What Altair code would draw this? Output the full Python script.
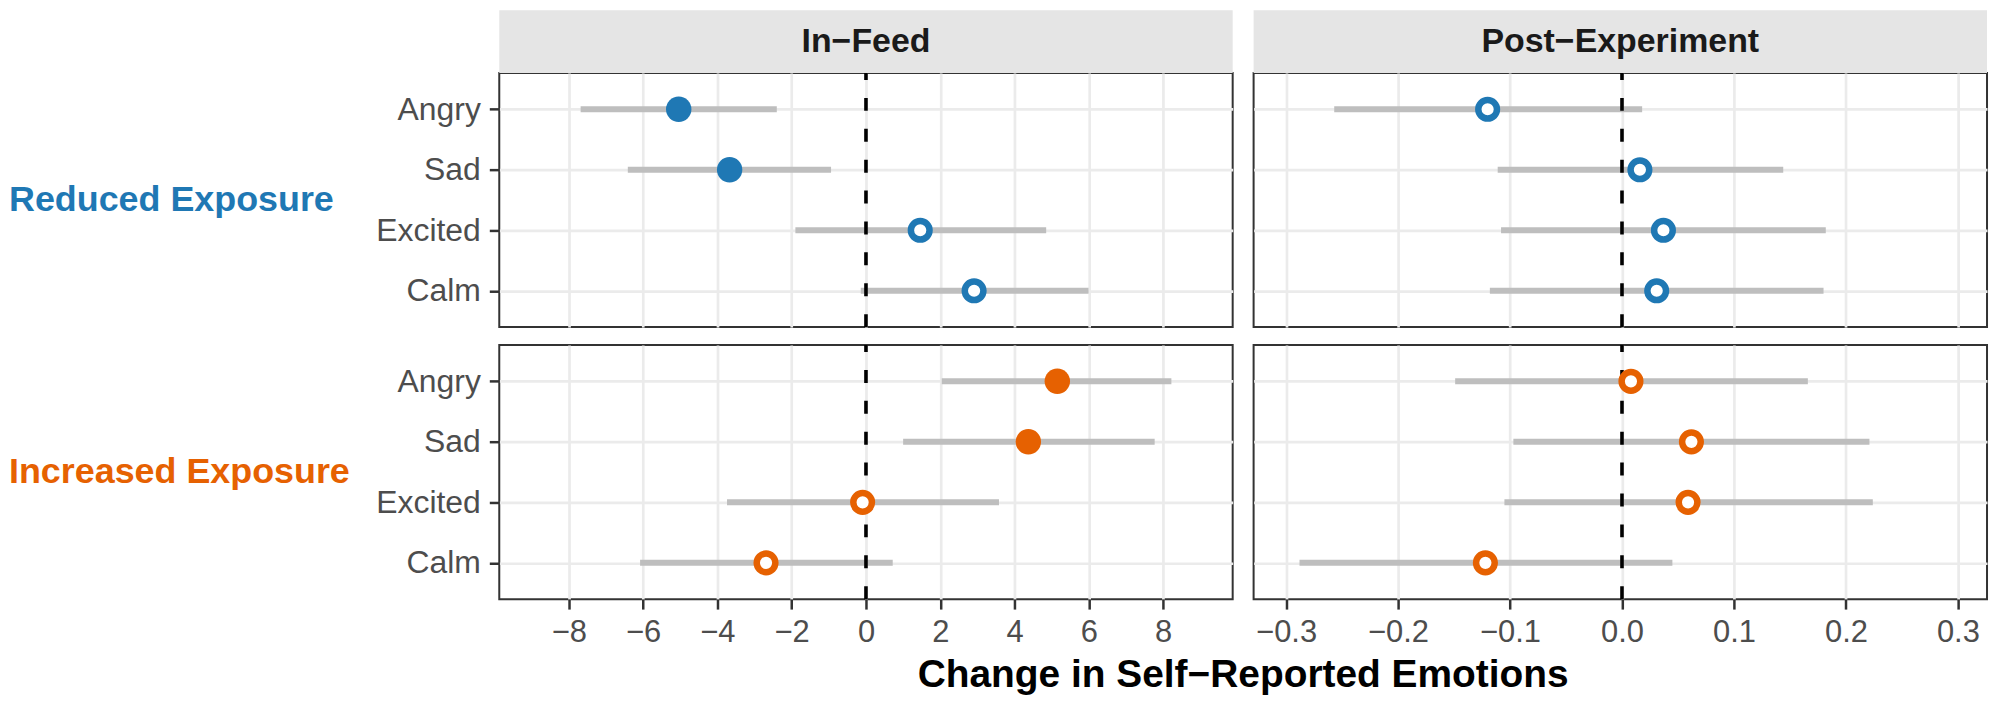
import altair as alt
import pandas as pd

# ---------------- data ----------------
emotions = ["Angry", "Sad", "Excited", "Calm"]
groups = ["Reduced Exposure", "Increased Exposure"]
timings = ["In−Feed", "Post−Experiment"]
group_colors = ["#1F78B4", "#E66101"]

reduced_infeed_est = [-5.04, -3.67, 1.46, 2.91]
reduced_infeed_lo = [-7.68, -6.41, -1.90, -0.14]
reduced_infeed_hi = [-2.40, -0.94, 4.85, 5.99]

increased_infeed_est = [5.15, 4.37, -0.09, -2.69]
increased_infeed_lo = [2.04, 1.00, -3.74, -6.08]
increased_infeed_hi = [8.22, 7.77, 3.58, 0.72]

reduced_post_est = [-0.120, 0.016, 0.037, 0.031]
reduced_post_lo = [-0.257, -0.111, -0.108, -0.118]
reduced_post_hi = [0.018, 0.144, 0.182, 0.180]

increased_post_est = [0.008, 0.062, 0.059, -0.122]
increased_post_lo = [-0.149, -0.097, -0.105, -0.288]
increased_post_hi = [0.166, 0.221, 0.224, 0.045]

x_domains = [[-9.87, 9.87], [-0.329, 0.326]]
x_ticks = [[-8, -6, -4, -2, 0, 2, 4, 6, 8], [-0.3, -0.2, -0.1, 0.0, 0.1, 0.2, 0.3]]
x_formats = ["d", ".1f"]
x_title = "Change in Self−Reported Emotions"

FONT = "Liberation Sans"
W, H = 736, 255


def make_panel(est, lo, hi, gi, ti):
    df = pd.DataFrame({"emotion": emotions, "est": est, "lo": lo, "hi": hi})
    df["filled"] = (df["lo"] > 0) | (df["hi"] < 0)
    df["group"] = groups[gi]
    top = gi == 0
    bottom = gi == 1
    left = ti == 0

    xscale = alt.Scale(domain=x_domains[ti], nice=False, zero=False)
    xaxis = alt.Axis(values=x_ticks[ti], format=x_formats[ti], labels=bottom,
                     ticks=bottom, grid=True, title=None)
    yscale = alt.Scale(type="point", padding=0.6, domain=emotions)
    yaxis = alt.Axis(labels=left, ticks=left, grid=True, title=None)
    cscale = alt.Scale(domain=groups, range=group_colors)

    base = alt.Chart(df)
    ci = base.mark_rule(color="#BEBEBE", strokeWidth=6).encode(
        x=alt.X("lo:Q", scale=xscale, axis=xaxis, title=None),
        x2="hi:Q",
        y=alt.Y("emotion:N", scale=yscale, axis=yaxis, sort=emotions, title=None),
    )
    zero = alt.Chart(pd.DataFrame({"z": [0.0]})).mark_rule(
        color="black", strokeWidth=3.6, strokeDash=[13, 18]
    ).encode(
        x=alt.X("z:Q", title=None),
        y=alt.value(H),
        y2=alt.value(0),
    )
    filled = base.transform_filter("datum.filled").mark_point(
        shape="circle", filled=True, size=650, opacity=1
    ).encode(
        x=alt.X("est:Q", title=None),
        y=alt.Y("emotion:N", title=None, sort=emotions),
        color=alt.Color("group:N", scale=cscale, legend=None),
    )
    hollow = base.transform_filter("!datum.filled").mark_point(
        shape="circle", filled=False, fill="white", fillOpacity=1,
        size=350, strokeWidth=6.5, opacity=1
    ).encode(
        x=alt.X("est:Q", title=None),
        y=alt.Y("emotion:N", title=None, sort=emotions),
        color=alt.Color("group:N", scale=cscale, legend=None),
    )
    layers = [ci, zero, filled, hollow]

    if top:
        sdf = pd.DataFrame({"label": [timings[ti]]})
        strip = alt.Chart(sdf).mark_rect(color="#E5E5E5").encode(
            x=alt.value(0), x2=alt.value(W), y=alt.value(-63), y2=alt.value(0)
        )
        stext = alt.Chart(sdf).mark_text(
            font=FONT, fontSize=34, fontWeight="bold", color="#1A1A1A",
            align="center", baseline="middle"
        ).encode(x=alt.value(W / 2), y=alt.value(-31), text="label:N")
        layers += [strip, stext]
    if left:
        rdf = pd.DataFrame({"label": [groups[gi]]})
        rtext = alt.Chart(rdf).mark_text(
            font=FONT, fontSize=36, fontWeight="bold", color=group_colors[gi],
            align="left", baseline="middle"
        ).encode(x=alt.value(-492), y=alt.value(H / 2), text="label:N")
        layers.append(rtext)
    if bottom and left:
        tdf = pd.DataFrame({"label": [x_title]})
        ttext = alt.Chart(tdf).mark_text(
            font=FONT, fontSize=39, fontWeight="bold", color="black",
            align="center", baseline="alphabetic"
        ).encode(x=alt.value(W + 10.5), y=alt.value(343), text="label:N")
        layers.append(ttext)

    return alt.layer(*layers).properties(width=W, height=H)


p11 = make_panel(reduced_infeed_est, reduced_infeed_lo, reduced_infeed_hi, 0, 0)
p12 = make_panel(reduced_post_est, reduced_post_lo, reduced_post_hi, 0, 1)
p21 = make_panel(increased_infeed_est, increased_infeed_lo, increased_infeed_hi, 1, 0)
p22 = make_panel(increased_post_est, increased_post_lo, increased_post_hi, 1, 1)

chart = alt.concat(
    p11, p12, p21, p22, columns=2, spacing={"row": 18, "column": 21}, bounds="flush"
).resolve_scale(
    x="independent", y="independent", color="shared"
).properties(
    padding={"left": 0, "top": 0, "right": 4, "bottom": 0}
).configure(
    font=FONT
).configure_view(
    stroke="#333333", strokeWidth=2, fill="white"
).configure_axis(
    domain=False, gridColor="#EBEBEB", gridWidth=2.7,
    tickColor="#333333", tickWidth=2.5, tickSize=10,
    labelFont=FONT, labelColor="#4D4D4D", labelPadding=9
).configure_axisX(
    labelFontSize=31
).configure_axisY(
    labelFontSize=32
)

chart.save("out.html", embed_options={"renderer": "svg", "actions": False})
